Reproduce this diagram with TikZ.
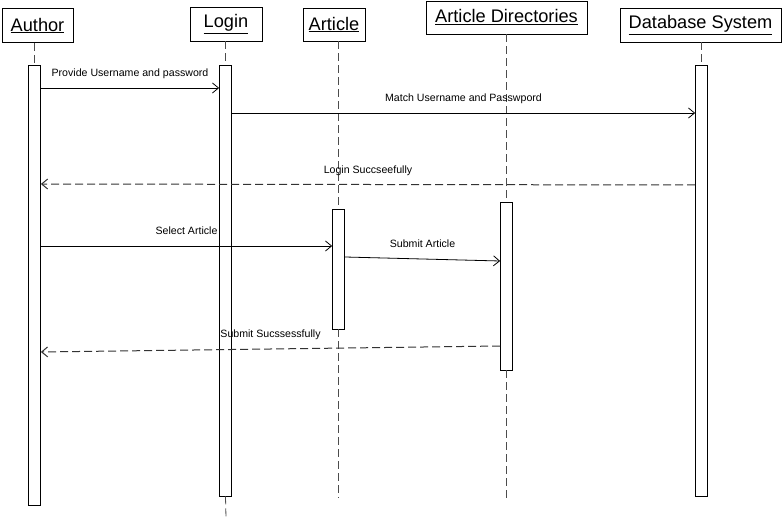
\documentclass[tikz,border=0pt]{standalone}
\usepackage{fontspec}
\setmainfont{Liberation Sans}
\usetikzlibrary{arrows.meta}

\begin{document}
\begin{tikzpicture}[
		x=1pt, y=-1pt,
		every node/.style={font=\fontsize{10.6}{12}\selectfont},
		obj/.style={rectangle, draw, line width=0.8pt, minimum height=34pt, inner sep=0pt, font=\fontsize{18.2}{20}\selectfont},
		act/.style={rectangle, draw, line width=0.8pt, minimum width=12pt, inner sep=0pt, fill=white},
		life/.style={draw=black!70, line width=0.8pt, dash pattern=on 8pt off 4pt},
		msg/.style={line width=0.8pt, -{Straight Barb[length=6pt,width=10pt]}},
		reply/.style={msg, draw=black!80, line width=1pt, dash pattern=on 8pt off 4pt},
		lbl/.style={draw=none, inner sep=0pt, text height=7.5pt, text depth=2pt, yshift=14pt}
	]
  \useasboundingbox (0,0) rectangle (784,518);
  % objects
  \node (author) [obj, minimum width=71pt] at (37.5, 25.5) {\underline{Author}};
  \node (login) [obj, minimum width=72pt] at (226, 24) {\underline{Login}};
  \node (article) [obj, minimum width=62pt, minimum height=33pt] at (334, 24.5) {\underline{Article}};
  \node (art_dir) [obj, minimum width=161pt, minimum height=33pt] at (506.5, 17.5) {\underline{Article Directories}};
  \node (db_sys) [obj, minimum width=161pt] at (700.5, 25) {\underline{Database System}};
  % activations
  \node (author_act) [act, minimum height=440pt] at (34.5, 285) {};
  \node (login_act) [act, minimum height=431pt] at (225.5, 280.5) {};
  \node (article_act) [act, minimum height=120pt] at (338.5, 269) {};
  \node (art_dir_act) [act, minimum height=168pt] at (506.5, 286) {};
  \node (db_sys_act) [act, minimum height=431pt] at (701.5, 280.5) {};
  \coordinate (login_end) at (226, 518);
  \coordinate (article_end) at (338.5, 498);
  \coordinate (art_dir_end) at (506.5, 498);
  % lifelines
  \draw [life] (author_act |- author.south) -- (author_act.north);
  \draw [life] (login_act |- login.south) -- (login_act.north);
  \draw [life] (login_act.south) -- (login_end);
  \draw [life] (article_act |- article.south) -- (article_act.north);
  \draw [life] (article_act.south) -- (article_end);
  \draw [life] (art_dir_act |- art_dir.south) -- (art_dir_act.north);
  \draw [life] (art_dir_act.south) -- (art_dir_end);
  \draw [life] (db_sys_act |- db_sys.south) -- (db_sys_act.north);
  % messages
  \draw [msg] (author_act.east |- 0,88) -- node [lbl] {Provide Username and password} (login_act.west |- 0,88);
  \draw [msg] (login_act.east |- 0,113) -- node [lbl] {Match Username and Passwpord} (db_sys_act.west |- 0,113);
  \draw [reply] (db_sys_act.west |- 0,185) -- node [lbl] {Login Succseefully} (author_act.east |- 0,184);
  \draw [msg] (author_act.east |- 0,246) -- node [lbl] {Select Article} (article_act.west |- 0,246);
  \draw [msg] (article_act.east |- 0,257) -- node [lbl] {Submit Article} (art_dir_act.west |- 0,261);
  \draw [reply] (art_dir_act.west |- 0,346) -- node [lbl] {Submit Sucssessfully} (author_act.east |- 0,352);
\end{tikzpicture}
\end{document}
